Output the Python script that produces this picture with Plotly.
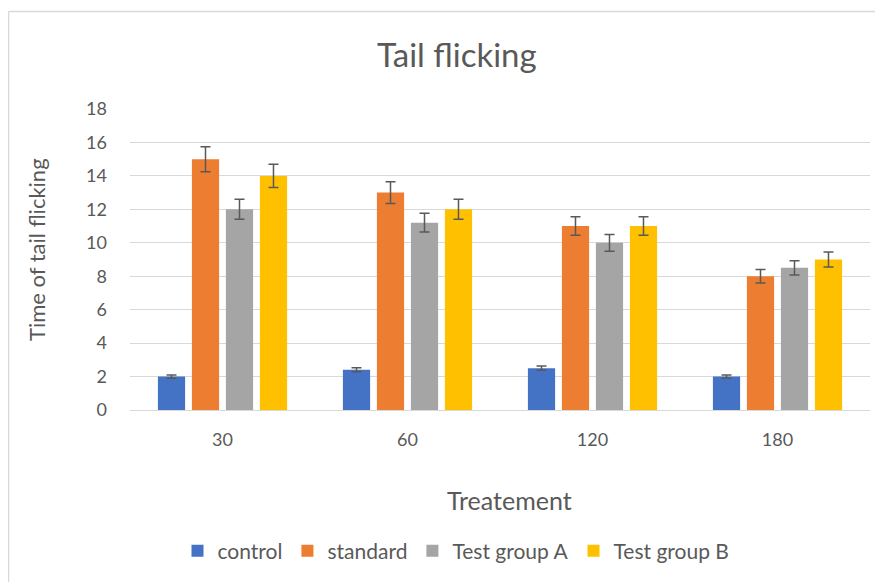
import plotly.graph_objects as go

categories = ["30", "60", "120", "180"]
control = [2.0, 2.4, 2.5, 2.0]
standard = [15.0, 13.0, 11.0, 8.0]
test_a = [12.0, 11.2, 10.0, 8.5]
test_b = [14.0, 12.0, 11.0, 9.0]
control_err = [0.10, 0.12, 0.125, 0.10]
standard_err = [0.75, 0.65, 0.55, 0.40]
test_a_err = [0.60, 0.56, 0.50, 0.425]
test_b_err = [0.70, 0.60, 0.55, 0.45]
y_ticks = [0, 2, 4, 6, 8, 10, 12, 14, 16, 18]

series = [
    ("control", control, control_err, "#4472C4"),
    ("standard", standard, standard_err, "#ED7D31"),
    ("Test group A", test_a, test_a_err, "#A5A5A5"),
    ("Test group B", test_b, test_b_err, "#FFC000"),
]

FONT = "Lato"
GREY = "#595959"

fig = go.Figure()
for name, vals, errs, color in series:
    fig.add_trace(go.Bar(
        x=categories, y=vals, name=name,
        marker=dict(color=color, line=dict(width=0)),
        error_y=dict(type="data", array=errs, visible=True,
                     color=GREY, thickness=1.5, width=5),
    ))

OFF = 8  # page body offset
# desired plot area in screen pixels
PX0, PX1, PY0, PY1 = 130, 870, 109, 410
L = PX0 - OFF
T = PY0 - OFF
R = 883 - (PX1 - OFF)
B = 582 - (PY1 - OFF)
pw = PX1 - PX0
ph = PY1 - PY0

def px_x(x):
    return (x - PX0) / pw

def px_y(y):
    return (PY1 - y) / ph

fig.update_layout(
    width=883, height=582,
    margin=dict(l=L, r=R, t=T, b=B, pad=0),
    paper_bgcolor="white", plot_bgcolor="white",
    barmode="group", bargap=0.265, bargroupgap=0.2,
    font=dict(family=FONT, color=GREY, size=16),
    showlegend=True,
    legend=dict(orientation="h", x=px_x(456), xanchor="center",
                y=px_y(551), yanchor="middle",
                font=dict(size=21, color=GREY), itemwidth=30,
                traceorder="normal"),
    xaxis=dict(type="category", showgrid=False, showline=True,
               linecolor="#D9D9D9", linewidth=1, ticks="",
               tickfont=dict(size=18, color=GREY), ticklabelstandoff=13),
    yaxis=dict(range=[0, 18], tickvals=y_ticks, showgrid=True,
               gridcolor="#D9D9D9", gridwidth=1, zeroline=False,
               showline=False, ticks="", tickfont=dict(size=18, color=GREY),
               ticklabelstandoff=22),
    annotations=[
        dict(text="Tail flicking", x=px_x(457), y=px_y(54), xref="paper",
             yref="paper", showarrow=False, font=dict(size=33, color=GREY),
             xanchor="center", yanchor="middle"),
        dict(text="Time of tail flicking", x=px_x(36), y=px_y(250),
             xref="paper", yref="paper", showarrow=False, textangle=-90,
             font=dict(size=22, color=GREY), xanchor="center",
             yanchor="middle"),
        dict(text="Treatement", x=px_x(509), y=px_y(500), xref="paper",
             yref="paper", showarrow=False, font=dict(size=25, color=GREY),
             xanchor="center", yanchor="middle"),
    ],
    shapes=[
        dict(type="line", xref="paper", yref="paper",
             x0=px_x(8.5), y0=px_y(11.5), x1=px_x(900), y1=px_y(11.5),
             line=dict(color="#D9D9D9", width=1.5)),
        dict(type="line", xref="paper", yref="paper",
             x0=px_x(8.5), y0=px_y(11.5), x1=px_x(8.5), y1=px_y(650),
             line=dict(color="#D9D9D9", width=1.5)),
    ],
)

fig.write_html("out.html")
